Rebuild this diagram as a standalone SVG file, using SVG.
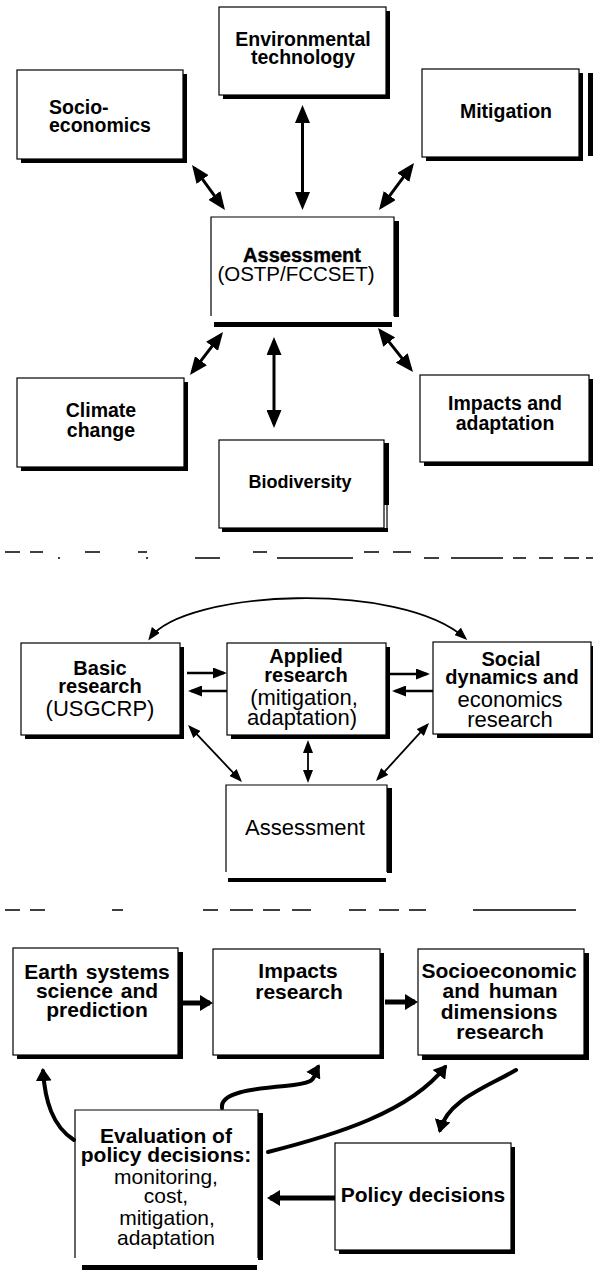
<svg xmlns="http://www.w3.org/2000/svg" width="593" height="1270" viewBox="0 0 593 1270">
  <style>
    .box { fill: #fff; stroke: #000; stroke-width: 1.2; }
    .shd { fill: #000; }
    .edge { fill: none; stroke: #000; stroke-width: 1.2; }
    text { font-family: "Liberation Sans", Arial, Helvetica, sans-serif; fill: #000; text-anchor: middle; }
    .t1 { font-size: 19.5px; font-weight: bold; }
    .hub { font-size: 20px; font-weight: bold; stroke: #000; stroke-width: 0.4; }
    .b18 { font-size: 18px; font-weight: bold; }
    .b20 { font-size: 20px; font-weight: bold; }
    .r20 { font-size: 20.5px; }
    .r22 { font-size: 22px; }
    .b21 { font-size: 21px; font-weight: bold; }
    .r21 { font-size: 21px; }
    .l { text-anchor: start; }
    .aw { fill: none; stroke: #000; stroke-width: 3; marker-start: url(#hA); marker-end: url(#hA); }
    .am { fill: none; stroke: #000; stroke-width: 2.6; marker-end: url(#hM); }
    .at { fill: none; stroke: #000; stroke-width: 1.8; marker-start: url(#hT); marker-end: url(#hT); }
    .ab { fill: none; stroke: #000; stroke-width: 5; marker-end: url(#hB); }
    .ac { fill: none; stroke: #000; stroke-width: 4; stroke-linecap: round; marker-end: url(#hB); }
    .dash { stroke: #000; stroke-width: 1.5; }
  </style>
  <defs>
    <marker id="hA" markerUnits="userSpaceOnUse" viewBox="0 0 18 15" markerWidth="18" markerHeight="15" refX="14" refY="7.5" orient="auto-start-reverse">
      <path d="M0,0 L18,7.5 L0,15 z" fill="#000"/>
    </marker>
    <marker id="hM" markerUnits="userSpaceOnUse" viewBox="0 0 14 11" markerWidth="14" markerHeight="11" refX="11" refY="5.5" orient="auto">
      <path d="M0,0 L14,5.5 L0,11 z" fill="#000"/>
    </marker>
    <marker id="hT" markerUnits="userSpaceOnUse" viewBox="0 0 13 10" markerWidth="13" markerHeight="10" refX="10" refY="5" orient="auto-start-reverse">
      <path d="M0,0 L13,5 L0,10 z" fill="#000"/>
    </marker>
    <marker id="hB" markerUnits="userSpaceOnUse" viewBox="0 0 13 16" markerWidth="13" markerHeight="16" refX="10" refY="8" orient="auto">
      <path d="M0,0 L13,8 L0,16 z" fill="#000"/>
    </marker>
  </defs>

  <!-- ===== Upper panel: assessment hub ===== -->
  <g id="env-tech">
    <rect class="shd" x="223" y="11" width="167" height="88"/>
    <rect class="box" x="219" y="7" width="167" height="88"/>
    <text class="t1" x="303" y="46">Environmental</text>
    <text class="t1" x="303" y="64">technology</text>
  </g>
  <g id="socio-economics">
    <rect class="shd" x="21" y="74" width="166" height="89"/>
    <rect class="box" x="17" y="70" width="166" height="89"/>
    <text class="t1 l" x="49" y="114">Socio-</text>
    <text class="t1 l" x="49" y="132">economics</text>
  </g>
  <g id="mitigation">
    <rect class="shd" x="426" y="73" width="157" height="88"/>
    <rect class="box" x="422" y="69" width="157" height="88"/>
    <rect class="shd" x="588" y="73" width="5" height="83"/>
    <text class="t1" x="506" y="118">Mitigation</text>
  </g>
  <g id="assessment-ostp">
    <path class="edge" d="M211,316 V217 H394 V316"/>
    <rect class="shd" x="394" y="221" width="5" height="96"/>
    <rect class="shd" x="214" y="322" width="178" height="5"/>
    <text class="hub" x="302" y="262">Assessment</text>
    <text class="r20" x="296" y="281">(OSTP/FCCSET)</text>
  </g>
  <g id="climate-change">
    <rect class="shd" x="21" y="382" width="167" height="89"/>
    <rect class="box" x="17" y="378" width="167" height="89"/>
    <text class="t1" x="101" y="417">Climate</text>
    <text class="t1" x="101" y="437">change</text>
  </g>
  <g id="impacts-adaptation">
    <rect class="shd" x="424" y="379" width="169" height="87"/>
    <rect class="box" x="420" y="375" width="169" height="87"/>
    <text class="t1" x="505" y="410">Impacts and</text>
    <text class="t1" x="505" y="430">adaptation</text>
  </g>
  <g id="biodiversity">
    <rect class="shd" x="384" y="443" width="5" height="62"/>
    <line class="edge" x1="387" y1="505" x2="387" y2="529"/>
    <rect class="shd" x="222" y="528" width="166" height="4"/>
    <rect class="box" x="219" y="440" width="165" height="88"/>
    <text class="b18" x="300" y="488">Biodiversity</text>
  </g>

  <!-- ===== Middle panel: research programmes ===== -->
  <g id="basic-research">
    <rect class="shd" x="25" y="647" width="159" height="92"/>
    <rect class="box" x="21" y="643" width="159" height="92"/>
    <text class="b20" x="100" y="675">Basic</text>
    <text class="b20" x="100" y="693">research</text>
    <text class="r22" x="100" y="716">(USGCRP)</text>
  </g>
  <g id="applied-research">
    <rect class="shd" x="231" y="647" width="159" height="92"/>
    <rect class="box" x="227" y="643" width="159" height="92"/>
    <text class="b20" x="306" y="663">Applied</text>
    <text class="b20" x="306" y="682">research</text>
    <text class="r22" x="304" y="705">(mitigation,</text>
    <text class="r22" x="302" y="725">adaptation)</text>
  </g>
  <g id="social-dynamics">
    <rect class="shd" x="437" y="646" width="158" height="92"/>
    <rect class="box" x="433" y="642" width="158" height="92"/>
    <text class="b20" x="511" y="666">Social</text>
    <text class="b20" x="512" y="684">dynamics and</text>
    <text class="r22" x="510" y="707">economics</text>
    <text class="r22" x="510" y="727">research</text>
  </g>
  <g id="assessment">
    <path class="edge" d="M226,872 V785 H387 V872"/>
    <rect class="shd" x="387" y="788" width="5" height="85"/>
    <rect class="shd" x="228" y="878" width="158" height="4"/>
    <text class="r22" x="305" y="835">Assessment</text>
  </g>

  <!-- ===== Lower panel: research and policy cycle ===== -->
  <g id="earth-systems">
    <rect class="shd" x="17" y="952" width="166" height="107"/>
    <rect class="box" x="13" y="948" width="165" height="107"/>
    <text class="b21" x="97" y="979" word-spacing="2">Earth systems</text>
    <text class="b21" x="97" y="998" word-spacing="2">science and</text>
    <text class="b21" x="97" y="1017">prediction</text>
  </g>
  <g id="impacts-research">
    <rect class="shd" x="217" y="953" width="167" height="106"/>
    <rect class="box" x="213" y="949" width="167" height="106"/>
    <text class="b21" x="298" y="978">Impacts</text>
    <text class="b21" x="299" y="999">research</text>
  </g>
  <g id="socioeconomic">
    <rect class="shd" x="422" y="953" width="167" height="107"/>
    <rect class="box" x="418" y="949" width="166" height="106"/>
    <text class="b21" x="499" y="978">Socioeconomic</text>
    <text class="b21" x="500" y="998" word-spacing="3">and human</text>
    <text class="b21" x="499" y="1019">dimensions</text>
    <text class="b21" x="500" y="1039">research</text>
  </g>
  <g id="evaluation">
    <path class="edge" d="M75,1258 V1110 H258 V1258"/>
    <rect class="shd" x="258" y="1113" width="5" height="147"/>
    <rect class="shd" x="82" y="1265" width="175" height="5"/>
    <text class="b21" x="166" y="1143">Evaluation of</text>
    <text class="b21" x="166" y="1162">policy decisions:</text>
    <text class="r21" x="166" y="1184">monitoring,</text>
    <text class="r21" x="166" y="1203">cost,</text>
    <text class="r21" x="167" y="1225">mitigation,</text>
    <text class="r21" x="166" y="1245">adaptation</text>
  </g>
  <g id="policy-decisions">
    <rect class="shd" x="339" y="1147" width="176" height="107"/>
    <rect class="box" x="335" y="1143" width="176" height="107"/>
    <text class="b21" x="423" y="1202">Policy decisions</text>
  </g>

  <!-- ===== Connectors ===== -->
  <g id="connectors">
    <!-- upper panel, double-headed -->
    <line class="aw" x1="194.4" y1="168.2" x2="222.6" y2="206.8"/>
    <line class="aw" x1="302.5" y1="109" x2="302.5" y2="206"/>
    <line class="aw" x1="411.6" y1="166.2" x2="381.4" y2="206.8"/>
    <line class="aw" x1="220.6" y1="335.2" x2="192.4" y2="371.8"/>
    <line class="aw" x1="274" y1="341" x2="274" y2="424"/>
    <line class="aw" x1="380.5" y1="331.1" x2="410.5" y2="368.9"/>

    <!-- middle panel -->
    <path class="at" d="M150,638 C185,590 400,580 465,638"/>
    <line class="am" x1="187" y1="673" x2="224" y2="673"/>
    <line class="am" x1="227" y1="691" x2="191" y2="691"/>
    <line class="am" x1="390" y1="674" x2="427" y2="674"/>
    <line class="am" x1="433" y1="691" x2="395" y2="691"/>
    <line class="at" x1="190.1" y1="727.2" x2="239.9" y2="779.8"/>
    <line class="at" x1="308" y1="743" x2="308" y2="780"/>
    <line class="at" x1="427" y1="725.2" x2="378" y2="778.8"/>

    <!-- lower panel -->
    <line class="ab" x1="183" y1="1003" x2="210" y2="1003"/>
    <line class="ab" x1="385" y1="1002" x2="415" y2="1002"/>
    <line class="ab" x1="335" y1="1198" x2="270" y2="1198"/>
    <path class="ac" d="M74,1140 C52,1126 45,1100 43,1071"/>
    <path class="ac" d="M222,1108 C220,1093 250,1089 285,1086 S312,1078 318,1067"/>
    <path class="ac" d="M268,1152 C335,1135 410,1112 445,1067"/>
    <path class="ac" d="M516,1070 C485,1088 448,1100 440,1130"/>
  </g>

  <!-- ===== Panel separators (broken rules) ===== -->
  <g id="separators">
    <path class="dash" d="M5,552H20 M30,552H43 M58,558H60 M85,552H100 M138,552H147 M146,558H148 M195,558H220 M253,552H267 M277,558H353 M364,552H379 M393,552H411 M424,558H439 M451,558H503 M513,558H526 M539,558H553 M564,558H579 M586,558H593"/>
    <path class="dash" stroke-width="1.2" d="M5,910H20 M30,910H45 M112,910H123 M203,910H218 M230,910H253 M263,910H280 M292,910H311 M349,910H366 M379,910H399 M409,910H426 M473,910H576"/>
  </g>
</svg>
